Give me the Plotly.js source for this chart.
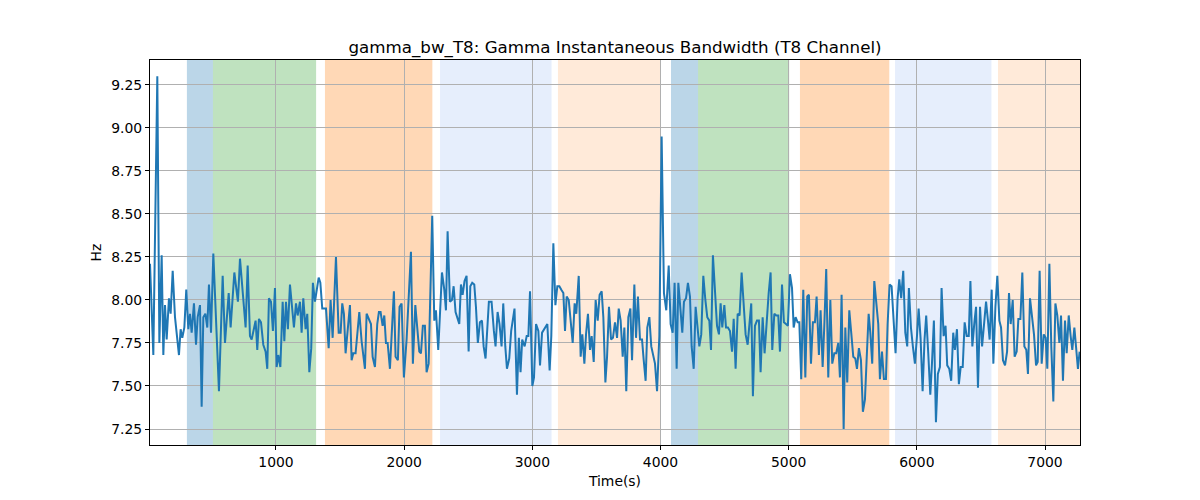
<!DOCTYPE html>
<html>
<head>
<meta charset="utf-8">
<script src="https://cdn.plot.ly/plotly-3.0.1.min.js"></script>
<style>html,body{margin:0;padding:0;background:#fff;}#chart{width:1200px;height:500px;}</style>
</head>
<body>
<div id="chart"></div>
<script>
// ---- data ----
const timeS = [
17,43,74,90,108,121,134,147,165,178,194,212,243,256,269,285,300,316,329,342,360,376,389,407,420,433,449,464,477,493,511,529,555,584,602,631,646,675,703,719,745,763,779,797,810,828,841,854,867,883,901,919,932,945,961,976,992,1005,1018,1034,1052,1065,1078,1093,1109,1140,1156,1169,1187,1200,1213,1231,1244,1260,1275,1288,1304,1333,1346,1361,1390,1411,1426,1442,1468,1489,
1504,1517,1530,1543,1559,1577,1590,1603,1621,1634,1650,1668,1681,1694,1707,1725,1741,1754,1772,1790,1803,1816,1832,1845,1858,1871,1889,1902,1920,1933,1951,1964,1980,1998,2019,2053,2068,2087,2102,2118,2131,2146,2162,2175,2191,2219,2235,2248,2266,2295,2313,2326,2339,2357,2373,2386,2401,2414,2430,2443,2456,2471,2487,2503,2516,2531,2547,2560,2575,2591,2607,2620,2635,2661,2682,2700,2713,2729,2744,2760,2773,2789,2802,2820,2835,2861,2880,2895,2908,2921,
2940,2956,2969,2982,3000,3013,3029,3047,3060,3076,3091,3104,3117,3135,3148,3164,3180,3195,3211,3226,3242,3255,3268,3284,3299,3315,3330,3343,3362,3377,3390,3406,3419,3434,3450,3463,3479,3494,3510,3525,3541,3554,3570,3583,3598,3614,3629,3645,3661,3674,3689,3705,3718,3733,3749,3765,3778,3796,3809,3824,3840,3856,3869,3884,3897,3913,3928,3944,3957,3973,3991,4009,4027,4045,4064,4079,4095,4110,4126,4139,4155,4170,4183,4199,4214,4230,4243,4259,4274,4290,4303,4318,4334,4350,4365,4381,4394,4409,4425,4441,4456,
4469,4482,4498,4511,4526,4542,4558,4571,4586,4602,4617,4633,4649,4664,4680,4693,4708,4721,4737,4753,4768,4781,4797,4812,4828,4844,4859,4872,4888,4903,4919,4932,4948,4963,4979,4994,5010,5026,5039,5054,5070,5083,5098,5114,5130,5145,5158,5174,5189,5205,5218,5236,5249,5265,5278,5293,5309,5325,5340,5356,5371,5387,
5400,5413,5429,5442,5457,5473,5488,5504,5520,5533,5548,5564,5579,5595,5608,5624,5637,5652,5668,5683,5699,5712,5728,5743,5759,5772,5787,5803,5819,5834,5850,5863,5878,5894,5910,5925,5938,5954,5969,5985,6001,6014,6029,6045,6060,6073,6089,6105,6118,6133,6149,6164,6180,6193,6209,6224,6237,6253,6268,6284,6297,6313,6328,
6342,6358,6373,6389,6405,6418,6433,6449,6462,6477,6493,6509,6524,6540,6555,6568,6584,6597,6613,6628,6644,6657,6672,6688,6704,6719,6732,6748,6763,6779,6792,6808,6823,6839,6854,6867,6883,6899,6914,6930,6943,6958,6974,6990,7005,7018,7034,7049,7065,7081,7096,7112,7125,7140,7156,7169,7185,7200,7213,7229,7244,7257,7270
];
const bandwidthHz = [
8.21,7.68,9.30,7.75,8.26,7.68,7.97,7.77,8.01,7.92,8.17,7.90,7.68,7.83,7.78,7.84,8.06,7.83,7.92,7.81,7.98,7.74,7.90,7.97,7.38,7.90,7.92,7.84,8.09,7.81,8.27,7.90,7.47,8.14,7.75,8.04,7.84,8.16,7.99,8.24,7.98,7.84,8.20,7.79,7.77,7.83,7.88,7.71,7.89,7.87,7.74,7.70,7.60,8.01,7.99,7.82,8.07,7.61,7.68,7.61,7.99,7.76,7.99,7.83,8.09,7.84,7.98,7.91,7.99,7.81,8.01,7.83,7.92,7.58,7.72,8.10,7.99,8.13,8.10,7.95,7.95,7.72,8.00,7.78,8.25,7.81,
7.81,7.98,7.92,7.69,7.83,7.97,7.65,7.69,7.69,7.79,7.93,7.76,7.69,7.60,7.92,7.89,7.86,7.67,7.61,7.86,7.93,7.93,7.85,7.91,7.75,7.75,7.60,7.79,8.05,7.67,7.65,7.96,7.98,7.55,7.77,8.28,7.63,7.97,7.84,7.70,7.69,7.85,7.85,7.58,7.63,8.49,7.88,7.94,7.71,8.16,8.06,7.94,8.40,7.99,8.00,8.08,7.93,7.90,7.86,8.09,8.03,8.11,8.14,7.70,8.08,8.10,8.09,7.96,7.75,7.87,7.88,7.73,7.66,7.99,7.99,7.82,7.73,7.93,7.86,7.73,7.98,7.73,7.60,7.66,7.82,7.95,7.45,7.78,7.58,7.77,
7.73,7.79,7.79,8.05,7.50,7.55,7.86,7.82,7.62,7.81,7.83,7.85,7.86,7.59,7.79,8.33,7.97,8.08,8.08,8.06,8.04,7.82,8.02,8.00,7.86,7.75,7.98,7.92,8.14,7.67,7.80,7.63,7.80,7.92,7.71,7.79,7.64,8.00,7.88,8.03,8.05,7.90,7.52,7.67,7.96,7.77,7.78,7.87,7.78,7.95,7.88,7.67,7.84,7.47,7.90,7.95,7.65,8.09,7.78,8.02,7.77,7.77,7.65,7.53,7.84,7.90,7.73,7.68,7.63,7.47,7.79,8.95,8.04,7.94,8.20,7.86,7.81,8.10,7.60,8.10,7.96,7.81,7.99,8.01,8.10,8.02,7.73,7.60,7.96,7.82,7.73,7.80,8.14,8.00,7.90,7.88,7.71,8.26,8.04,7.85,7.80,
7.98,7.84,7.97,7.84,7.84,7.82,7.70,7.89,7.60,7.92,7.91,8.16,7.94,7.80,7.74,7.88,7.98,7.44,7.85,7.88,7.88,7.58,7.90,7.69,7.89,8.04,8.16,7.71,7.92,7.91,7.91,7.70,8.09,7.87,7.86,7.85,8.15,8.07,7.84,7.90,7.87,7.87,7.54,8.06,7.55,8.02,8.03,7.63,7.87,7.87,8.02,7.68,7.94,7.61,7.85,8.18,7.55,8.00,7.63,7.69,7.69,7.75,
7.55,8.03,7.25,7.84,7.52,7.94,7.81,7.67,7.66,7.60,7.72,7.65,7.35,7.42,7.65,7.92,7.81,7.63,8.11,7.97,7.86,7.54,7.70,7.54,7.54,7.86,8.09,8.08,7.85,7.69,8.01,8.12,8.01,8.17,7.81,7.73,8.07,7.84,7.73,7.63,7.79,7.95,7.78,7.47,7.77,7.91,7.69,7.45,7.63,7.88,7.29,7.57,7.61,8.07,7.79,7.85,7.62,7.60,7.53,7.81,7.71,7.83,7.51,
7.61,7.61,7.87,7.79,7.79,8.11,7.73,7.87,7.96,7.49,7.96,7.73,7.86,7.99,7.88,7.77,8.06,7.63,7.96,8.14,7.88,7.84,7.65,7.62,7.70,8.04,7.86,8.00,7.67,7.70,7.89,7.89,8.16,7.73,7.71,7.57,8.01,7.91,7.80,7.62,7.64,8.17,7.63,7.80,7.78,7.60,8.21,7.73,7.41,7.98,7.91,7.75,7.91,7.53,7.88,7.69,7.91,7.79,7.71,7.84,7.73,7.60,7.70
];
// shaded phases
const phaseStart = [305, 508, 1382, 2280, 3200, 4082, 4293, 5088, 5830, 6633];
const phaseEnd   = [508, 1313, 2220, 3150, 3998, 4293, 5004, 5785, 6582, 7300];
const phaseKind  = ['A','B','C','D','E','A','B','C','D','E'];
const xTicks = [1000, 2000, 3000, 4000, 5000, 6000, 7000];
const yTicks = [7.25, 7.50, 7.75, 8.00, 8.25, 8.50, 8.75, 9.00, 9.25];

// ---- styling ----
const kindColor = {
  A: 'rgba(31,119,180,0.3)',
  B: 'rgba(44,160,44,0.3)',
  C: 'rgba(255,127,14,0.3)',
  D: 'rgba(100,149,237,0.16)',
  E: 'rgba(255,160,80,0.22)'
};
const shapes = phaseStart.map((s, i) => ({
  type: 'rect', xref: 'x', yref: 'paper',
  x0: s, x1: phaseEnd[i], y0: 0, y1: 1,
  fillcolor: kindColor[phaseKind[i]],
  line: {width: 0}, layer: 'below'
}));

const font = 'DejaVu Sans, sans-serif';
const trace = {
  x: timeS, y: bandwidthHz, type: 'scatter', mode: 'lines',
  line: {color: '#1f77b4', width: 2}, hoverinfo: 'skip'
};
const layout = {
  width: 1200, height: 500,
  margin: {l: 150, r: 120, t: 60, b: 55},
  paper_bgcolor: '#ffffff', plot_bgcolor: 'rgba(0,0,0,0)',
  showlegend: false,
  title: {text: 'gamma_bw_T8: Gamma Instantaneous Bandwidth (T8 Channel)',
          font: {family: font, size: 16.7, color: '#000'},
          xref: 'paper', x: 0.5, xanchor: 'center', y: 0.905, yanchor: 'middle'},
  xaxis: {
    range: [17, 7273], tickvals: xTicks, ticktext: xTicks.map(String),
    showgrid: true, gridcolor: '#b0b0b0', gridwidth: 1,
    zeroline: false, showline: true, mirror: true, linecolor: '#000', linewidth: 1,
    ticks: 'outside', ticklen: 4, tickcolor: '#000',
    tickfont: {family: font, size: 13.9, color: '#000'},
    title: {text: 'Time(s)', font: {family: font, size: 13.9, color: '#000'}, standoff: 7}
  },
  yaxis: {
    range: [7.157, 9.395], tickvals: yTicks, ticktext: yTicks.map(v => v.toFixed(2)),
    showgrid: true, gridcolor: '#b0b0b0', gridwidth: 1,
    zeroline: false, showline: true, mirror: true, linecolor: '#000', linewidth: 1,
    ticks: 'outside', ticklen: 4, tickcolor: '#000',
    tickfont: {family: font, size: 13.9, color: '#000'},
    title: {text: 'Hz', font: {family: font, size: 13.9, color: '#000'}, standoff: 6}
  },
  shapes: shapes
};
Plotly.newPlot('chart', [trace], layout, {staticPlot: true, displayModeBar: false});
</script>
</body>
</html>
